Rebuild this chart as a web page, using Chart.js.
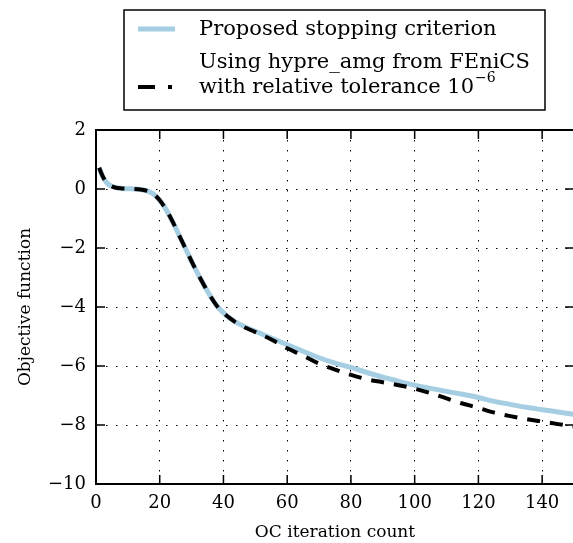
<!DOCTYPE html>
<html>
<head>
<meta charset="utf-8">
<script src="https://cdn.jsdelivr.net/npm/chart.js@4"></script>
<style>
  html, body { margin: 0; padding: 0; overflow: hidden; background: #fff; }
</style>
</head>
<body>
<canvas id="chart1" width="580" height="543"></canvas>
<script>
// données
const iterations = [1, 2, 3, 4, 5, 6, 8, 10, 12, 14, 16, 18, 20, 22, 24, 26, 28, 30, 32, 34, 36, 38, 40, 42, 45,
    50, 55, 60, 65, 70, 75, 80, 85, 90, 95, 100, 105, 110, 115, 120, 125, 130, 135, 140, 145, 150];
const proposed = [0.72, 0.45, 0.26, 0.15, 0.09, 0.05, 0.02, 0.01, 0.0, -0.02, -0.06, -0.17, -0.38, -0.7, -1.1, -1.55,
    -2.0, -2.45, -2.88, -3.28, -3.65, -3.97, -4.2, -4.38, -4.58,
    -4.82, -5.05, -5.28, -5.5, -5.72, -5.9, -6.05, -6.22, -6.38, -6.52, -6.65, -6.76, -6.86, -6.96, -7.07, -7.2,
    -7.3, -7.4, -7.48, -7.56, -7.64];
const hypreAmg = [0.72, 0.45, 0.26, 0.15, 0.09, 0.05, 0.02, 0.01, 0.0, -0.02, -0.06, -0.17, -0.38, -0.7, -1.1, -1.55,
    -2.0, -2.45, -2.88, -3.28, -3.65, -3.97, -4.2, -4.38, -4.6,
    -4.85, -5.1, -5.4, -5.65, -5.92, -6.12, -6.3, -6.45, -6.55, -6.65, -6.77, -6.92, -7.1, -7.27, -7.42, -7.58,
    -7.7, -7.8, -7.88, -7.97, -8.05];
const xTicks = [0, 20, 40, 60, 80, 100, 120, 140];
const yTicks = [-10, -8, -6, -4, -2, 0, 2];
const legendLabels = ["Proposed stopping criterion", "Using hypre_amg from FEniCS", "with relative tolerance 10", "\u22126"];

const BLUE = "#a6cee3";
const FONT = '"DejaVu Serif", serif';

const toPoints = (ys) => iterations.map((x, i) => ({ x: x, y: ys[i] }));

// cadre, graduations vers l'intérieur et légende
const frame = {
    id: "frame",
    afterDraw(chart) {
        const { ctx, chartArea: a, scales } = chart;
        const sx = scales.x, sy = scales.y;
        ctx.save();
        ctx.strokeStyle = "#000";
        ctx.lineWidth = 1.5;
        ctx.beginPath();
        xTicks.forEach(v => {
            const px = sx.getPixelForValue(v);
            ctx.moveTo(px, a.bottom); ctx.lineTo(px, a.bottom - 9);
            ctx.moveTo(px, a.top); ctx.lineTo(px, a.top + 9);
        });
        yTicks.forEach(v => {
            const py = sy.getPixelForValue(v);
            ctx.moveTo(a.left, py); ctx.lineTo(a.left + 9, py);
            ctx.moveTo(a.right, py); ctx.lineTo(a.right - 9, py);
        });
        ctx.stroke();
        ctx.lineWidth = 2;
        ctx.strokeRect(a.left, a.top, a.right - a.left, a.bottom - a.top);

        // légende
        ctx.lineWidth = 1.5;
        ctx.strokeRect(124, 10, 421, 100);
        ctx.lineWidth = 5;
        ctx.strokeStyle = BLUE;
        ctx.beginPath(); ctx.moveTo(138, 29); ctx.lineTo(175, 29); ctx.stroke();
        ctx.lineWidth = 4;
        ctx.strokeStyle = "#000";
        ctx.setLineDash([17, 13]);
        ctx.beginPath(); ctx.moveTo(138, 87); ctx.lineTo(172, 87); ctx.stroke();
        ctx.setLineDash([]);
        ctx.fillStyle = "#000";
        ctx.textBaseline = "middle";
        ctx.textAlign = "left";
        ctx.font = "21px " + FONT;
        ctx.fillText(legendLabels[0], 199, 30);
        ctx.fillText(legendLabels[1], 199, 63);
        ctx.fillText(legendLabels[2], 199, 88);
        const w = ctx.measureText(legendLabels[2]).width;
        ctx.font = "14px " + FONT;
        ctx.fillText(legendLabels[3], 199 + w + 1, 78);
        ctx.restore();
    }
};

const ctx0 = document.getElementById("chart1");

const chart = new Chart(ctx0, {
    type: "line",
    data: {
        datasets: [
            {
                label: legendLabels[0],
                data: toPoints(proposed),
                borderColor: BLUE,
                borderWidth: 5,
                order: 2,
            },
            {
                label: "Using hypre_amg from FEniCS with relative tolerance 1e-6",
                data: toPoints(hypreAmg),
                borderColor: "#000",
                borderWidth: 4,
                borderDash: [13, 10],
                order: 1,
            }
        ]
    },
    options: {
        responsive: false,
        animation: false,
        layout: { padding: { top: 130, right: 6, left: 0, bottom: 0 } },
        elements: {
            point: { radius: 0 },
            line: { cubicInterpolationMode: "monotone", borderCapStyle: "butt" }
        },
        plugins: {
            legend: { display: false },
            tooltip: { enabled: false }
        },
        scales: {
            x: {
                type: "linear",
                min: 0,
                max: 150,
                afterBuildTicks: (s) => { s.ticks = xTicks.map(v => ({ value: v })); },
                afterFit: (s) => { s.height = 59; },
                grid: { color: "#000", lineWidth: 1, drawTicks: false },
                border: { display: false, dash: [1.5, 8.5] },
                ticks: { color: "#000", padding: 9, font: { family: FONT, size: 18 } },
                title: {
                    display: true,
                    text: "OC iteration count",
                    color: "#000",
                    padding: { top: 3, bottom: 0 },
                    font: { family: FONT, size: 17 }
                }
            },
            y: {
                min: -10,
                max: 2,
                afterBuildTicks: (s) => { s.ticks = yTicks.map(v => ({ value: v })); },
                afterFit: (s) => { s.width = 96; },
                grid: { color: "#000", lineWidth: 1, drawTicks: false },
                border: { display: false, dash: [1.5, 8.5] },
                ticks: {
                    color: "#000",
                    padding: 10,
                    font: { family: FONT, size: 18 },
                    callback: (v) => String(v).replace("-", "\u2212")
                },
                title: {
                    display: true,
                    text: "Objective function",
                    color: "#000",
                    padding: { top: 15, bottom: 6 },
                    font: { family: FONT, size: 17 }
                }
            }
        }
    },
    plugins: [frame]
});
</script>
</body>
</html>
